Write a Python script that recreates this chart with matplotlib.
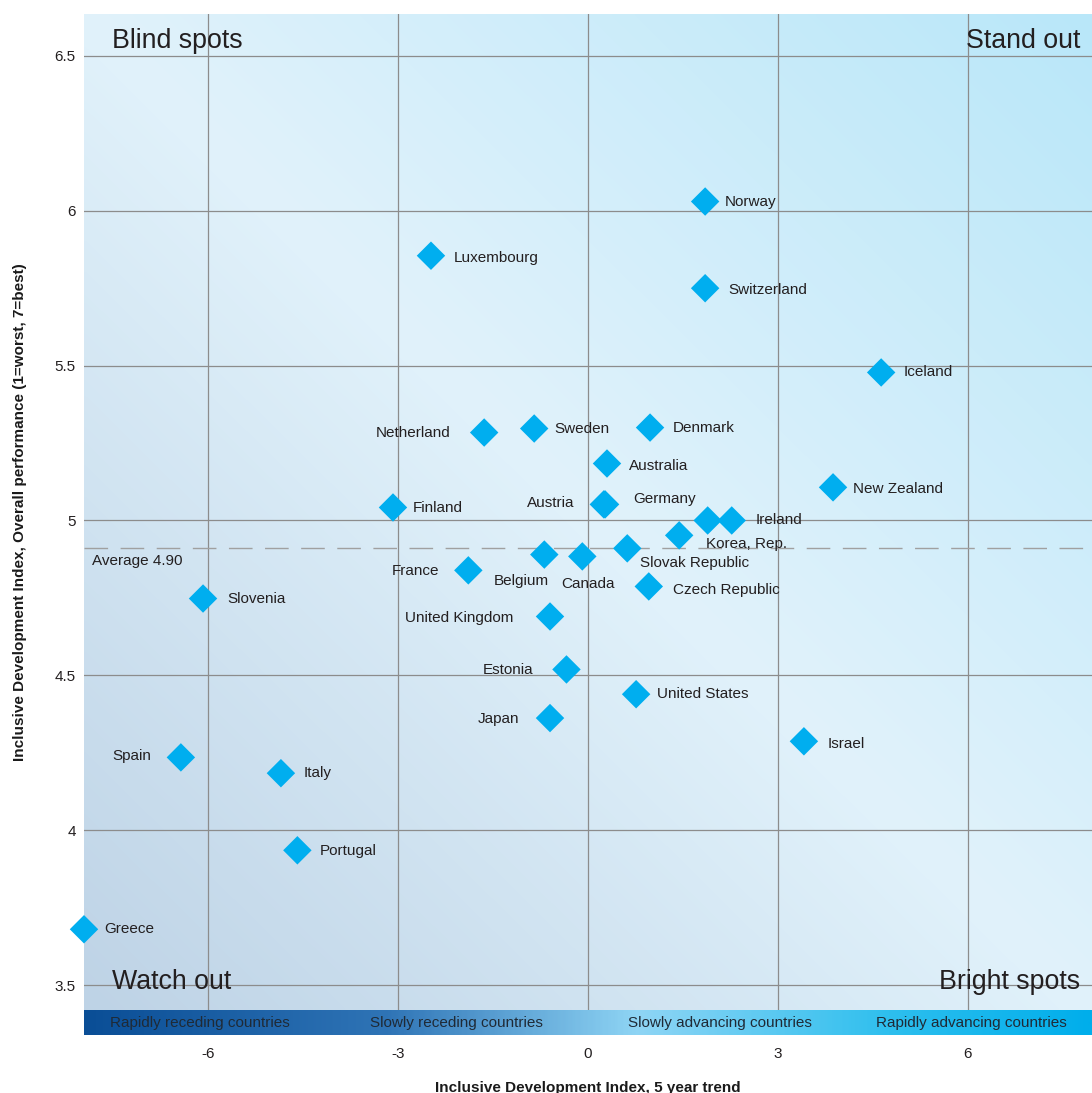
import numpy as np
import matplotlib
matplotlib.use('Agg')
import matplotlib.pyplot as plt
from matplotlib.colors import LinearSegmentedColormap

plt.rcParams['font.family'] = ['Liberation Sans', 'DejaVu Sans']

# data
countries = ['Norway', 'Luxembourg', 'Switzerland', 'Iceland', 'New Zealand',
             'Netherland', 'Sweden', 'Denmark', 'Australia', 'Finland',
             'Austria', 'Germany', '', 'Ireland', 'Korea, Rep.', 'Slovak Republic',
             'Belgium', 'Canada', 'France', 'Czech Republic', 'United Kingdom',
             'Slovenia', 'Spain', 'Italy', 'Portugal', 'Greece',
             'Estonia', 'Japan', 'United States', 'Israel']
trend = [1.85, -2.48, 1.85, 4.63, 3.87,
         -1.64, -0.85, 0.98, 0.30, -3.08,
         0.25, 0.27, 1.89, 2.27, 1.44, 0.62,
         -0.69, -0.09, -1.89, 0.96, -0.60,
         -6.08, -6.43, -4.85, -4.59, -7.96,
         -0.34, -0.60, 0.76, 3.41]
score = [6.03, 5.855, 5.75, 5.478, 5.107,
         5.284, 5.297, 5.30, 5.184, 5.042,
         5.052, 5.052, 5.0, 5.0, 4.952, 4.91,
         4.89, 4.884, 4.839, 4.787, 4.69,
         4.748, 4.235, 4.184, 3.935, 3.68,
         4.519, 4.362, 4.439, 4.287]
avg_line = 4.91
avg_text = 'Average 4.90'
bands = ['Rapidly receding countries', 'Slowly receding countries',
         'Slowly advancing countries', 'Rapidly advancing countries']
xticks = [-6, -3, 0, 3, 6]
yticks = [3.5, 4, 4.5, 5, 5.5, 6, 6.5]
ytick_labels = ['3.5', '4', '4.5', '5', '5.5', '6', '6.5']

# label placement (pixel offsets from marker, alignment)
label_pos = {
    'Norway': (20, 0, 'left'), 'Luxembourg': (23, -2, 'left'),
    'Switzerland': (23, -2, 'left'), 'Iceland': (22, 0, 'left'),
    'New Zealand': (20, -2, 'left'), 'Netherland': (-34, 0, 'right'),
    'Sweden': (20, 0, 'left'), 'Denmark': (23, 0, 'left'),
    'Australia': (22, -2, 'left'), 'Finland': (20, -1, 'left'),
    'Austria': (-29, 1, 'right'), 'Germany': (28, 5, 'left'),
    'Ireland': (24, 0, 'left'), 'Korea, Rep.': (27, -9, 'left'),
    'Slovak Republic': (13, -15, 'left'), 'Belgium': (-23, -26, 'center'),
    'Canada': (6, -28, 'center'), 'France': (-29, -1, 'right'),
    'Czech Republic': (24, -4, 'left'), 'United Kingdom': (-37, -2, 'right'),
    'Slovenia': (24, 0, 'left'), 'Spain': (-30, 1, 'right'),
    'Italy': (23, 0, 'left'), 'Portugal': (22, -1, 'left'),
    'Greece': (20, 0, 'left'), 'Estonia': (-33, -1, 'right'),
    'Japan': (-31, -1, 'right'), 'United States': (21, 0, 'left'),
    'Israel': (24, -3, 'left'),
}
band_x = [-6.13, -2.08, 2.08, 6.06]

W, H = 1092, 1093
fig = plt.figure(figsize=(W / 100, H / 100), dpi=100)
ax = fig.add_axes([84 / W, 1 - 1010 / H, 1008 / W, 996 / H])
xmin, xmax = -7.96, 7.96
ymin, ymax = 3.5 - 25 / 310, 6.5 + 42 / 310
ax.set_xlim(xmin, xmax)
ax.set_ylim(ymin, ymax)

# diagonal background gradient
bg = LinearSegmentedColormap.from_list('bg', ['#bed3e6', '#e1f2fb', '#b9e7f9'])
u, v = np.meshgrid(np.linspace(0, 1, 300), np.linspace(0, 1, 300))
ax.imshow((u + v) / 2, cmap=bg, origin='lower', extent=[xmin, xmax, ymin, ymax],
          aspect='auto', zorder=0, interpolation='bilinear')

for xv in xticks:
    ax.axvline(xv, color='#8c8c8c', lw=0.9, zorder=1)
for yv in yticks:
    ax.axhline(yv, color='#8c8c8c', lw=0.9, zorder=1)
ax.axhline(avg_line, color='#a0a0a0', lw=1.0, dashes=(17, 9), zorder=1)
ax.annotate(avg_text, (xmin, avg_line), xytext=(8, -13), textcoords='offset pixels',
            ha='left', va='center', fontsize=11, color='#231f20')

ax.scatter(trend, score, marker='D', s=210, color='#00aeef', edgecolor='none',
           zorder=3, clip_on=False)
for name, x, y in zip(countries, trend, score):
    if not name:
        continue
    dx, dy, ha = label_pos[name]
    ax.annotate(name, (x, y), xytext=(dx, dy), textcoords='offset pixels',
                ha=ha, va='center', fontsize=11, color='#231f20', zorder=4)

qkw = dict(transform=ax.transAxes, fontsize=19.3, color='#231f20', va='center')
ax.text(0.028, 0.973, 'Blind spots', ha='left', **qkw)
ax.text(0.988, 0.973, 'Stand out', ha='right', **qkw)
ax.text(0.028, 0.028, 'Watch out', ha='left', **qkw)
ax.text(0.988, 0.028, 'Bright spots', ha='right', **qkw)

ax.set_yticks(yticks)
ax.set_yticklabels(ytick_labels, fontsize=11, color='#231f20')
ax.tick_params(axis='y', length=0, pad=6)
ax.set_xticks([])
for s in ax.spines.values():
    s.set_visible(False)
ax.set_ylabel('Inclusive Development Index, Overall performance (1=worst, 7=best)',
              fontsize=11, fontweight='bold', labelpad=20, color='#1a1a1a')

# trend strip under the plot
sx = fig.add_axes([84 / W, 1 - 1035 / H, 1008 / W, 25 / H])
sx.set_xlim(xmin, xmax)
sx.set_ylim(0, 1)
strip = LinearSegmentedColormap.from_list(
    'strip', [(0, '#0a4e96'), (0.3, '#2f74b6'), (0.55, '#8fd5f5'),
              (0.8, '#2ebfee'), (1, '#00aeeb')])
sx.imshow(np.linspace(0, 1, 400)[None, :], cmap=strip, aspect='auto',
          extent=[xmin, xmax, 0, 1], zorder=0)
for b, bx in zip(bands, band_x):
    sx.text(bx, 0.5, b, ha='center', va='center', fontsize=11, color='#1f2a36')
sx.set_yticks([])
sx.set_xticks(xticks)
sx.set_xticklabels([str(t) for t in xticks], fontsize=11, color='#231f20')
sx.tick_params(axis='x', length=0, pad=9)
for s in sx.spines.values():
    s.set_visible(False)
sx.set_xlabel('Inclusive Development Index, 5 year trend', fontsize=11,
              fontweight='bold', labelpad=14, color='#1a1a1a')

fig.savefig('out.png', dpi=100)
